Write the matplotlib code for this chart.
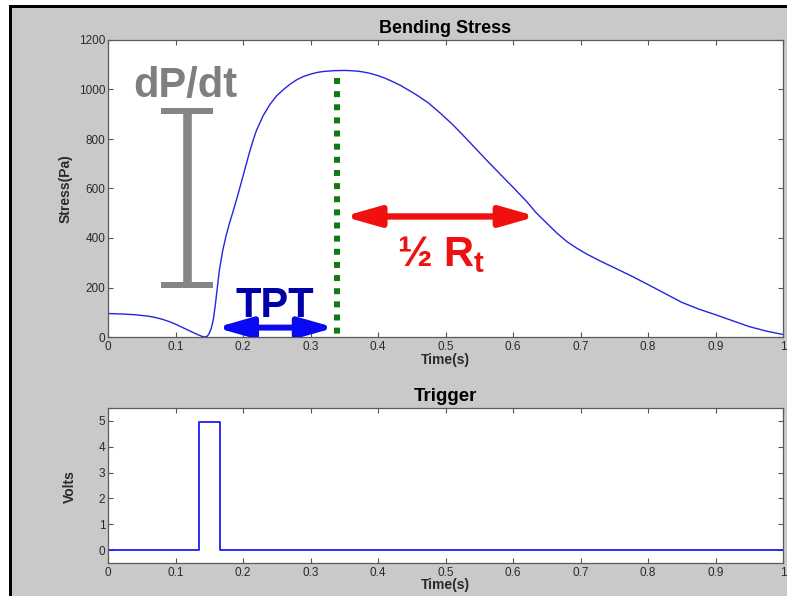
import matplotlib
matplotlib.use("Agg")
import matplotlib.pyplot as plt
from matplotlib.patches import Rectangle, FancyArrowPatch, ArrowStyle

plt.rcParams['font.family'] = ['Liberation Sans', 'DejaVu Sans']
plt.rcParams['mathtext.fontset'] = 'custom'
plt.rcParams['mathtext.bf'] = 'Liberation Sans:bold'
plt.rcParams['mathtext.rm'] = 'Liberation Sans:bold'
plt.rcParams['mathtext.default'] = 'bf'

# bending stress trace (Pa) over one cycle
time_s = [0.0, 0.02, 0.04, 0.06, 0.07, 0.08, 0.09, 0.10, 0.11, 0.12,
          0.13, 0.135, 0.14, 0.143, 0.147, 0.15, 0.153, 0.156, 0.159, 0.162,
          0.165, 0.17, 0.175, 0.18, 0.185, 0.19, 0.195, 0.20, 0.205, 0.21,
          0.215, 0.22, 0.23, 0.24, 0.25, 0.26, 0.27, 0.28, 0.29, 0.30,
          0.31, 0.32, 0.334, 0.35, 0.36, 0.37, 0.38, 0.39, 0.40, 0.41,
          0.42, 0.433, 0.45, 0.46, 0.475, 0.492, 0.51, 0.525, 0.541, 0.56,
          0.581, 0.60, 0.62, 0.635, 0.65, 0.665, 0.68, 0.695, 0.71, 0.73,
          0.75, 0.775, 0.80, 0.825, 0.85, 0.875, 0.90, 0.925, 0.95, 0.975,
          1.0]
stress_pa = [95, 93, 90, 84, 79, 72, 63, 52, 39, 26,
             13, 7, 2, 0, 3, 15, 35, 70, 130, 200,
             270, 350, 410, 460, 505, 551, 600, 650, 700, 750,
             795, 835, 895, 940, 975, 1000, 1022, 1040, 1053, 1062,
             1069, 1073, 1076, 1077, 1076, 1074, 1070, 1064, 1056, 1046,
             1034, 1017, 990, 973, 945, 905, 860, 818, 772, 717,
             658, 605, 548, 500, 460, 420, 385, 358, 334, 306,
             280, 247, 212, 176, 140, 113, 90, 66, 42, 24,
             10]

# trigger pulse (V)
trig_t = [0.0, 0.135, 0.135, 0.166, 0.166, 1.0]
trig_v = [0.0, 0.0, 4.96, 4.96, 0.0, 0.0]

x_ticks = [0, 0.1, 0.2, 0.3, 0.4, 0.5, 0.6, 0.7, 0.8, 0.9, 1]
x_labels = ['0', '0.1', '0.2', '0.3', '0.4', '0.5', '0.6', '0.7', '0.8', '0.9', '1']
stress_ticks = [0, 200, 400, 600, 800, 1000, 1200]
volt_ticks = [0, 1, 2, 3, 4, 5]

# annotation values
peak_time = 0.339
peak_top = 1046
tpt_start = 0.160
tpt_y = 38
half_rt_end = 0.635
half_rt_y = 487
beam_x = 0.117
beam_lo, beam_hi = 211, 915
beam_half = 0.039

W, H = 787, 596
fig = plt.figure(figsize=(W / 100, H / 100), dpi=100, facecolor='#c9c9c9')

# window frame: white margin and black edge on the left and top
fig.patches.append(Rectangle((0, 0), 9 / W, 1, transform=fig.transFigure,
                             facecolor='white', edgecolor='none', zorder=0))
fig.patches.append(Rectangle((9 / W, 0), 3 / W, 1 - 5 / H, transform=fig.transFigure,
                             facecolor='black', edgecolor='none', zorder=0))
fig.patches.append(Rectangle((0, 1 - 5 / H), 1, 5 / H, transform=fig.transFigure,
                             facecolor='white', edgecolor='none', zorder=0))
fig.patches.append(Rectangle((9 / W, 1 - 8 / H), 1, 3 / H, transform=fig.transFigure,
                             facecolor='black', edgecolor='none', zorder=0))

ax1 = fig.add_axes([108 / W, 1 - 337 / H, 675 / W, 297 / H])
ax2 = fig.add_axes([108 / W, 1 - 563 / H, 675 / W, 155 / H])

for ax in (ax1, ax2):
    ax.set_facecolor('white')
    ax.set_xlim(0, 1)
    ax.set_xticks(x_ticks)
    ax.set_xticklabels(x_labels)
    ax.tick_params(direction='in', top=True, right=True, length=3.5, width=0.8,
                   colors='#555555', labelcolor='#2a2a2a', labelsize=8.5)
    ax.tick_params(axis='x', pad=3)
    ax.tick_params(axis='y', pad=2)
    for sp in ax.spines.values():
        sp.set_color('#5a5a5a')
        sp.set_linewidth(0.9)

# top panel
ax1.plot(time_s, stress_pa, color='#2424e0', lw=1.0)
ax1.set_ylim(0, 1200)
ax1.set_yticks(stress_ticks)
ax1.set_title('Bending Stress', fontsize=13, fontweight='bold', pad=5)
ax1.set_xlabel('Time(s)', fontsize=10, fontweight='bold', color='#2a2a2a')
ax1.xaxis.set_label_coords(0.5, -0.055)
ax1.set_ylabel('Stress(Pa)', fontsize=10, fontweight='bold', color='#2a2a2a')
ax1.yaxis.set_label_coords(-0.052, 0.5)

# peak marker
ax1.plot([peak_time, peak_time], [peak_top, 0], color='#0f7a0f', lw=4.3,
         linestyle=(0, (1, 1.2)), dash_capstyle='butt', zorder=3)

# dP/dt bar
ax1.plot([beam_x, beam_x], [beam_lo, beam_hi], color='#858585', lw=6.2,
         solid_capstyle='butt')
ax1.plot([beam_x - beam_half, beam_x + beam_half], [beam_hi, beam_hi],
         color='#858585', lw=4.3, solid_capstyle='butt')
ax1.plot([beam_x - beam_half, beam_x + beam_half], [beam_lo, beam_lo],
         color='#858585', lw=4.3, solid_capstyle='butt')
ax1.text(0.114, 969, 'dP/dt', fontsize=30, fontweight='bold', color='#7f7f7f',
         ha='center', va='baseline')

# double-headed arrows
style = ArrowStyle('<|-|>', head_length=21, head_width=6)
ax1.add_patch(FancyArrowPatch((tpt_start, tpt_y), (peak_time - 0.003, tpt_y),
                              arrowstyle=style, mutation_scale=1, lw=4.3,
                              color='#0a0af2', shrinkA=0, shrinkB=0, zorder=4))
ax1.add_patch(FancyArrowPatch((peak_time + 0.01, half_rt_y), (half_rt_end, half_rt_y),
                              arrowstyle=style, mutation_scale=1, lw=4.6,
                              color='#f01010', shrinkA=0, shrinkB=0, zorder=4))
ax1.text(0.2474, 81, 'TPT', fontsize=30, fontweight='bold', color='#0000a8',
         ha='center', va='baseline')
ax1.text(0.4277, 288, '½ $R_t$', fontsize=30, fontweight='bold', color='#ee1111',
         ha='left', va='baseline')

# bottom panel
ax2.plot(trig_t, trig_v, color='#1c1cf0', lw=1.3)
ax2.set_ylim(-0.5, 5.5)
ax2.set_yticks(volt_ticks)
ax2.set_title('Trigger', fontsize=13.5, fontweight='bold', pad=5)
ax2.set_xlabel('Time(s)', fontsize=10, fontweight='bold', color='#2a2a2a')
ax2.xaxis.set_label_coords(0.5, -0.1)
ax2.set_ylabel('Volts', fontsize=10, fontweight='bold', color='#2a2a2a')
ax2.yaxis.set_label_coords(-0.046, 0.49)

fig.savefig('out.png', dpi=100, facecolor=fig.get_facecolor())
